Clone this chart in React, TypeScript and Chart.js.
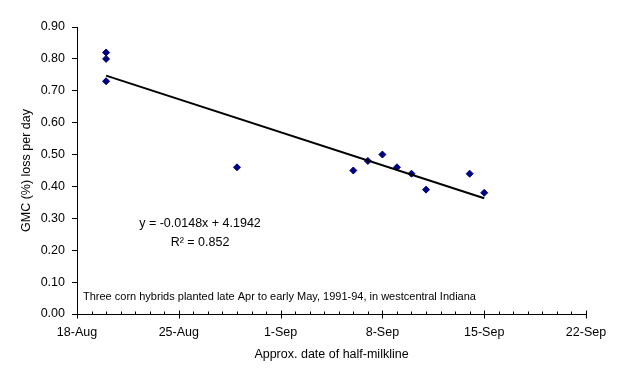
import React, { useEffect, useRef } from "react";
import { Chart, registerables } from "chart.js";

Chart.register(...registerables);

// ---- data ----
const axisStart = "08-18";
const axisEnd = "09-22";
const xTickLabels = ["18-Aug", "25-Aug", "1-Sep", "8-Sep", "15-Sep", "22-Sep"];
const yMin = 0;
const yMax = 0.9;
const yStep = 0.1;
const pointDates = ["08-20", "08-20", "08-20", "08-29", "09-06", "09-07", "09-08", "09-09", "09-10", "09-11", "09-14", "09-15"];
const gmcLoss = [0.82, 0.8, 0.73, 0.46, 0.45, 0.48, 0.5, 0.46, 0.44, 0.39, 0.44, 0.38];
const equationText = "y = -0.0148x + 4.1942";
const r2Text = "R² = 0.852";
const noteText = "Three corn hybrids planted late Apr to early May, 1991-94, in westcentral Indiana";
const xTitle = "Approx. date of half-milkline";
const yTitle = "GMC (%) loss per day";

const FONT = "'Liberation Sans', Arial, sans-serif";
const FS = 12.5;

function dayNum(md: string): number {
  const [m, d] = md.split("-").map(Number);
  return Math.round(Date.UTC(2001, m - 1, d) / 86400000);
}
const x0 = dayNum(axisStart);
const xSpan = dayNum(axisEnd) - x0;
const xs = pointDates.map((d) => dayNum(d) - x0);

// least-squares trendline
function regression(x: number[], y: number[]) {
  const n = x.length;
  const mx = x.reduce((a, b) => a + b, 0) / n;
  const my = y.reduce((a, b) => a + b, 0) / n;
  let sxy = 0, sxx = 0;
  for (let i = 0; i < n; i++) {
    sxy += (x[i] - mx) * (y[i] - my);
    sxx += (x[i] - mx) * (x[i] - mx);
  }
  const slope = sxy / sxx;
  return { slope, intercept: my - slope * mx };
}
const fit = regression(xs, gmcLoss);
const xFitMin = Math.min(...xs);
const xFitMax = Math.max(...xs);

const decoPlugin = {
  id: "deco",
  afterDraw(chart: any) {
    const ctx = chart.ctx as CanvasRenderingContext2D;
    const xs_ = chart.scales.x;
    const area = chart.chartArea;
    ctx.save();
    // x axis tick marks (major crossing, minor inside)
    ctx.strokeStyle = "#000";
    ctx.lineWidth = 1;
    const yb = Math.round(area.bottom) + 0.5;
    for (let v = 0; v <= xSpan; v++) {
      const px = Math.round(xs_.getPixelForValue(v)) + 0.5;
      ctx.beginPath();
      if (v % 7 === 0) {
        ctx.moveTo(px, yb - 4);
        ctx.lineTo(px, yb + 4);
      } else {
        ctx.moveTo(px, yb - 3);
        ctx.lineTo(px, yb);
      }
      ctx.stroke();
    }
    ctx.fillStyle = "#000";
    // axis titles
    ctx.font = `${FS}px ${FONT}`;
    ctx.textAlign = "center";
    ctx.textBaseline = "middle";
    ctx.fillText(xTitle, (area.left + area.right) / 2, 355);
    ctx.save();
    ctx.translate(27, (area.top + area.bottom) / 2);
    ctx.rotate(-Math.PI / 2);
    ctx.fillText(yTitle, 0, 0);
    ctx.restore();
    // equation
    ctx.fillText(equationText, 200, 224);
    ctx.fillText(r2Text, 200, 243);
    // note
    ctx.font = `11px ${FONT}`;
    ctx.textAlign = "left";
    ctx.fillText(noteText, 83, 297);
    ctx.restore();
  },
};

export default function App() {
  const ref = useRef<HTMLCanvasElement | null>(null);
  useEffect(() => {
    document.body.style.margin = "0";
    document.body.style.background = "#fff";
    const canvas = ref.current;
    if (!canvas) return;
    const chart = new Chart(canvas, {
      type: "scatter",
      data: {
        datasets: [
          {
            type: "line",
            data: [
              { x: xFitMin, y: fit.intercept + fit.slope * xFitMin },
              { x: xFitMax, y: fit.intercept + fit.slope * xFitMax },
            ],
            borderColor: "#000",
            borderWidth: 2,
            pointRadius: 0,
            fill: false,
          } as any,
          {
            data: xs.map((x, i) => ({ x, y: gmcLoss[i] })),
            pointStyle: "rectRot",
            pointRadius: 3.5,
            pointBorderWidth: 1,
            backgroundColor: "#000080",
            borderColor: "#000080",
          },
        ],
      },
      options: {
        responsive: false,
        animation: false,
        events: [],
        layout: { padding: { top: 27, right: 37, bottom: 0, left: 0 } },
        plugins: { legend: { display: false }, tooltip: { enabled: false } },
        scales: {
          x: {
            type: "linear",
            min: 0,
            max: xSpan,
            afterFit: (s: any) => { s.height = 69; },
            afterBuildTicks: (s: any) => {
              s.ticks = xTickLabels.map((_, i) => ({ value: i * 7 }));
            },
            ticks: {
              callback: (_v: any, i: number) => xTickLabels[i],
              font: { family: FONT, size: FS },
              color: "#000",
              padding: 11,
              maxRotation: 0,
              autoSkip: false,
            },
            grid: { drawOnChartArea: false, drawTicks: false },
            border: { display: true, color: "#000", width: 1 },
          },
          y: {
            min: yMin,
            max: yMax,
            afterFit: (s: any) => { s.width = 77; },
            ticks: {
              stepSize: yStep,
              callback: (v: any) => Number(v).toFixed(2),
              font: { family: FONT, size: FS },
              color: "#000",
              padding: 7,
            },
            grid: { drawOnChartArea: false, drawTicks: true, tickLength: 5, color: "#000" },
            border: { display: true, color: "#000", width: 1 },
          },
        },
      },
      plugins: [decoPlugin],
    });
    return () => chart.destroy();
  }, []);
  return (
    <div style={{ width: 623, height: 383, background: "#fff", overflow: "hidden" }}>
      <canvas ref={ref} width={623} height={383} />
    </div>
  );
}
